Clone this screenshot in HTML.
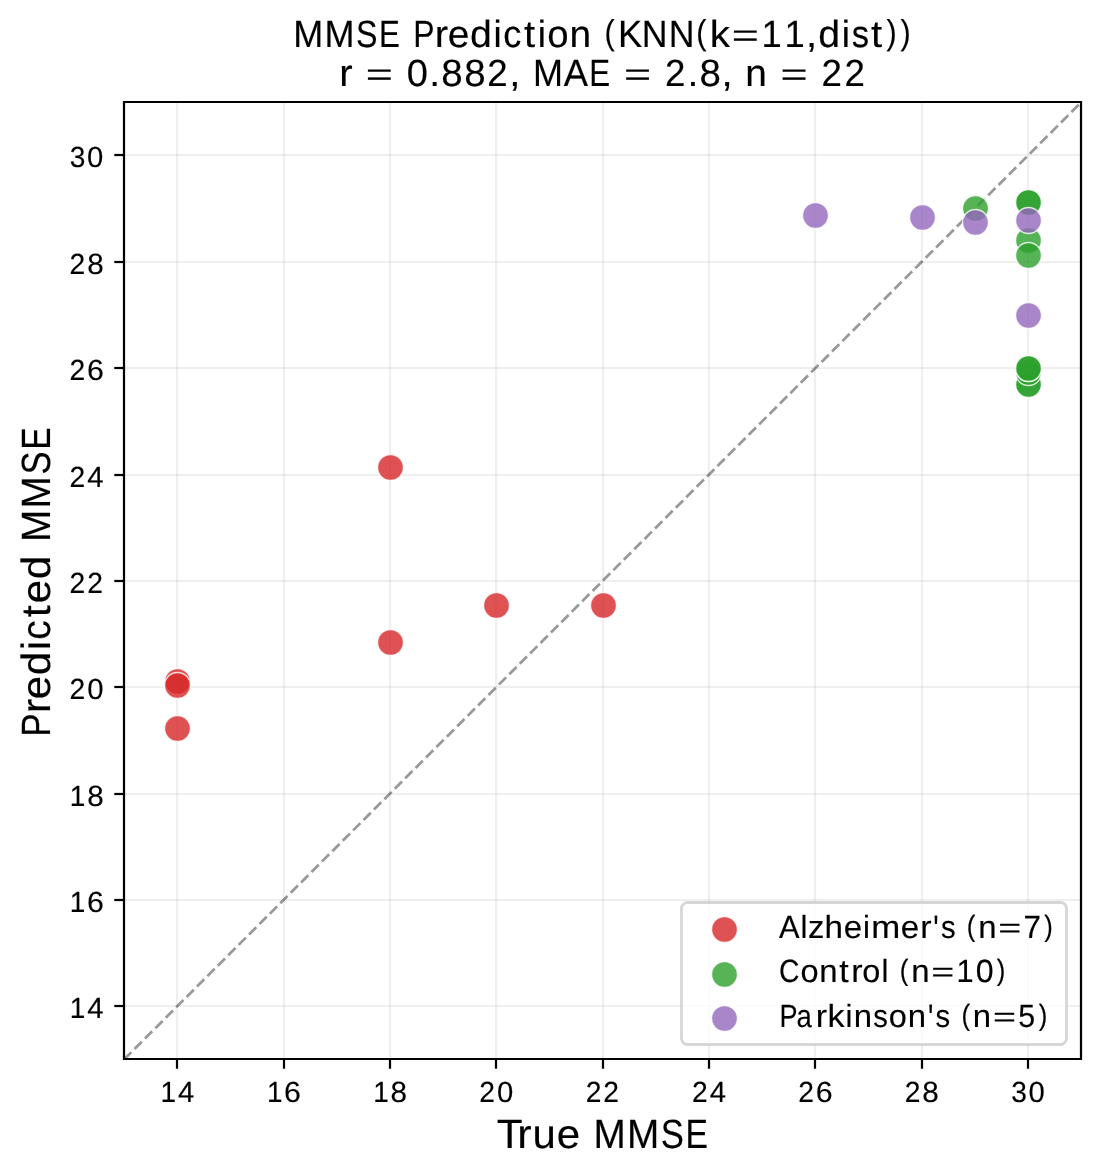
<!DOCTYPE html>
<html><head><meta charset="utf-8"><title>MMSE Prediction (KNN)</title><style>html,body{margin:0;padding:0;background:#fff;}svg{display:block;will-change:transform;}text{font-family:"Liberation Sans",sans-serif;fill:#000;stroke:#000;stroke-width:0.15px;text-rendering:geometricPrecision;}</style></head><body>
<svg width="1101" height="1176" viewBox="0 0 1101 1176">
<rect x="0" y="0" width="1101" height="1176" fill="#fff"/>
<defs><clipPath id="ax"><rect x="124.0" y="102.0" width="957.0" height="957.0"/></clipPath></defs>
<g stroke="#b0b0b0" stroke-opacity="0.2" stroke-width="2.222">
<line x1="177" y1="102.0" x2="177" y2="1059.0"/>
<line x1="124.0" y1="1006" x2="1081.0" y2="1006"/>
<line x1="284" y1="102.0" x2="284" y2="1059.0"/>
<line x1="124.0" y1="900" x2="1081.0" y2="900"/>
<line x1="390" y1="102.0" x2="390" y2="1059.0"/>
<line x1="124.0" y1="794" x2="1081.0" y2="794"/>
<line x1="496" y1="102.0" x2="496" y2="1059.0"/>
<line x1="124.0" y1="687" x2="1081.0" y2="687"/>
<line x1="603" y1="102.0" x2="603" y2="1059.0"/>
<line x1="124.0" y1="581" x2="1081.0" y2="581"/>
<line x1="709" y1="102.0" x2="709" y2="1059.0"/>
<line x1="124.0" y1="475" x2="1081.0" y2="475"/>
<line x1="815" y1="102.0" x2="815" y2="1059.0"/>
<line x1="124.0" y1="368" x2="1081.0" y2="368"/>
<line x1="922" y1="102.0" x2="922" y2="1059.0"/>
<line x1="124.0" y1="262" x2="1081.0" y2="262"/>
<line x1="1028" y1="102.0" x2="1028" y2="1059.0"/>
<line x1="124.0" y1="155" x2="1081.0" y2="155"/>
</g>
<g clip-path="url(#ax)">
<line x1="124.12" y1="1059.40" x2="1081.22" y2="102.30" stroke="#000" stroke-opacity="0.4" stroke-width="2.778" stroke-dasharray="10.278 4.444"/>
<circle cx="177.5" cy="681.5" r="12.955" fill="rgb(214,39,40)" fill-opacity="0.8" stroke="#fff" stroke-opacity="0.8" stroke-width="1.389"/>
<circle cx="177.5" cy="685.5" r="12.955" fill="rgb(214,39,40)" fill-opacity="0.8" stroke="#fff" stroke-opacity="0.8" stroke-width="1.389"/>
<circle cx="177.5" cy="728.5" r="12.955" fill="rgb(214,39,40)" fill-opacity="0.8" stroke="#fff" stroke-opacity="0.8" stroke-width="1.389"/>
<circle cx="390.5" cy="467.5" r="12.955" fill="rgb(214,39,40)" fill-opacity="0.8" stroke="#fff" stroke-opacity="0.8" stroke-width="1.389"/>
<circle cx="390.5" cy="642.5" r="12.955" fill="rgb(214,39,40)" fill-opacity="0.8" stroke="#fff" stroke-opacity="0.8" stroke-width="1.389"/>
<circle cx="496.5" cy="605.5" r="12.955" fill="rgb(214,39,40)" fill-opacity="0.8" stroke="#fff" stroke-opacity="0.8" stroke-width="1.389"/>
<circle cx="603.5" cy="605.5" r="12.955" fill="rgb(214,39,40)" fill-opacity="0.8" stroke="#fff" stroke-opacity="0.8" stroke-width="1.389"/>
<circle cx="975.5" cy="208.5" r="12.955" fill="rgb(44,160,44)" fill-opacity="0.8" stroke="#fff" stroke-opacity="0.8" stroke-width="1.389"/>
<circle cx="815.5" cy="215.5" r="12.955" fill="rgb(148,103,189)" fill-opacity="0.8" stroke="#fff" stroke-opacity="0.8" stroke-width="1.389"/>
<circle cx="922.5" cy="217.5" r="12.955" fill="rgb(148,103,189)" fill-opacity="0.8" stroke="#fff" stroke-opacity="0.8" stroke-width="1.389"/>
<circle cx="975.5" cy="222.5" r="12.955" fill="rgb(148,103,189)" fill-opacity="0.8" stroke="#fff" stroke-opacity="0.8" stroke-width="1.389"/>
<circle cx="1028.5" cy="202.5" r="12.955" fill="rgb(44,160,44)" fill-opacity="0.8" stroke="#fff" stroke-opacity="0.8" stroke-width="1.389"/>
<circle cx="1028.5" cy="202.5" r="12.955" fill="rgb(44,160,44)" fill-opacity="0.8" stroke="#fff" stroke-opacity="0.8" stroke-width="1.389"/>
<circle cx="1028.5" cy="240.5" r="12.955" fill="rgb(44,160,44)" fill-opacity="0.8" stroke="#fff" stroke-opacity="0.8" stroke-width="1.389"/>
<circle cx="1028.5" cy="220.5" r="12.955" fill="rgb(148,103,189)" fill-opacity="0.8" stroke="#fff" stroke-opacity="0.8" stroke-width="1.389"/>
<circle cx="1028.5" cy="255.5" r="12.955" fill="rgb(44,160,44)" fill-opacity="0.8" stroke="#fff" stroke-opacity="0.8" stroke-width="1.389"/>
<circle cx="1028.5" cy="315.5" r="12.955" fill="rgb(148,103,189)" fill-opacity="0.8" stroke="#fff" stroke-opacity="0.8" stroke-width="1.389"/>
<circle cx="1028.5" cy="384.5" r="12.955" fill="rgb(44,160,44)" fill-opacity="0.8" stroke="#fff" stroke-opacity="0.8" stroke-width="1.389"/>
<circle cx="1028.5" cy="384.5" r="12.955" fill="rgb(44,160,44)" fill-opacity="0.8" stroke="#fff" stroke-opacity="0.8" stroke-width="1.389"/>
<circle cx="1028.5" cy="372.5" r="12.955" fill="rgb(44,160,44)" fill-opacity="0.8" stroke="#fff" stroke-opacity="0.8" stroke-width="1.389"/>
<circle cx="1028.5" cy="368.5" r="12.955" fill="rgb(44,160,44)" fill-opacity="0.8" stroke="#fff" stroke-opacity="0.8" stroke-width="1.389"/>
<circle cx="1028.5" cy="368.5" r="12.955" fill="rgb(44,160,44)" fill-opacity="0.8" stroke="#fff" stroke-opacity="0.8" stroke-width="1.389"/>
</g>
<rect x="681.5" y="902.5" width="385" height="142" rx="6.1" ry="6.1" fill="#fff" fill-opacity="0.8" stroke="#cccccc" stroke-opacity="0.8" stroke-width="2.778"/>
<circle cx="724.5" cy="929.5" r="12.955" fill="rgb(214,39,40)" fill-opacity="0.8" stroke="#fff" stroke-opacity="0.8" stroke-width="1.389"/>
<text transform="translate(778.80,937.60)" y="0" font-size="32.08"><tspan x="0.18" textLength="20.53" lengthAdjust="spacingAndGlyphs">A</tspan><tspan x="21.64" textLength="6.94" lengthAdjust="spacingAndGlyphs">l</tspan><tspan x="29.32" textLength="16.37" lengthAdjust="spacingAndGlyphs">z</tspan><tspan x="45.82" textLength="18.45" lengthAdjust="spacingAndGlyphs">h</tspan><tspan x="64.96" textLength="18.36" lengthAdjust="spacingAndGlyphs">e</tspan><tspan x="84.23" textLength="6.94" lengthAdjust="spacingAndGlyphs">i</tspan><tspan x="92.38" textLength="29.00" lengthAdjust="spacingAndGlyphs">m</tspan><tspan x="121.91" textLength="18.36" lengthAdjust="spacingAndGlyphs">e</tspan><tspan x="141.55" textLength="11.33" lengthAdjust="spacingAndGlyphs">r</tspan><tspan x="154.44" y="4.06" font-size="38.28" textLength="5.39" lengthAdjust="spacingAndGlyphs">&#39;</tspan><tspan x="162.16" y="0" textLength="14.64" lengthAdjust="spacingAndGlyphs">s</tspan> <tspan x="187.93" y="-2.02" font-size="29.21" textLength="8.60" lengthAdjust="spacingAndGlyphs">(</tspan><tspan x="199.39" y="0" textLength="18.32" lengthAdjust="spacingAndGlyphs">n</tspan><tspan x="219.45" y="-0.76" font-size="26.76" textLength="22.99" lengthAdjust="spacingAndGlyphs">=</tspan><tspan x="244.58" y="0" textLength="17.52" lengthAdjust="spacingAndGlyphs">7</tspan><tspan x="265.39" y="-2.02" font-size="29.21" textLength="8.60" lengthAdjust="spacingAndGlyphs">)</tspan></text>
<circle cx="724.5" cy="974.5" r="12.955" fill="rgb(44,160,44)" fill-opacity="0.8" stroke="#fff" stroke-opacity="0.8" stroke-width="1.389"/>
<text transform="translate(778.80,981.60)" y="0" font-size="32.08"><tspan x="0.28" textLength="20.48" lengthAdjust="spacingAndGlyphs">C</tspan><tspan x="21.62" textLength="18.07" lengthAdjust="spacingAndGlyphs">o</tspan><tspan x="40.54" textLength="18.32" lengthAdjust="spacingAndGlyphs">n</tspan><tspan x="60.47" textLength="9.45" lengthAdjust="spacingAndGlyphs">t</tspan><tspan x="72.41" textLength="11.33" lengthAdjust="spacingAndGlyphs">r</tspan><tspan x="83.48" textLength="18.07" lengthAdjust="spacingAndGlyphs">o</tspan><tspan x="102.60" textLength="6.94" lengthAdjust="spacingAndGlyphs">l</tspan> <tspan x="121.01" y="-2.02" font-size="29.21" textLength="8.60" lengthAdjust="spacingAndGlyphs">(</tspan><tspan x="132.48" y="0" textLength="18.32" lengthAdjust="spacingAndGlyphs">n</tspan><tspan x="152.53" y="-0.76" font-size="26.76" textLength="22.99" lengthAdjust="spacingAndGlyphs">=</tspan><tspan x="177.79" y="0" textLength="17.11" lengthAdjust="spacingAndGlyphs">1</tspan><tspan x="196.94" textLength="17.91" lengthAdjust="spacingAndGlyphs">0</tspan><tspan x="217.88" y="-2.02" font-size="29.21" textLength="8.60" lengthAdjust="spacingAndGlyphs">)</tspan></text>
<circle cx="724.5" cy="1018.5" r="12.955" fill="rgb(148,103,189)" fill-opacity="0.8" stroke="#fff" stroke-opacity="0.8" stroke-width="1.389"/>
<text transform="translate(778.80,1026.60)" y="0" font-size="32.08"><tspan x="0.78" textLength="18.02" lengthAdjust="spacingAndGlyphs">P</tspan><tspan x="17.69" textLength="15.28" lengthAdjust="spacingAndGlyphs">a</tspan><tspan x="36.87" textLength="11.33" lengthAdjust="spacingAndGlyphs">r</tspan><tspan x="48.72" textLength="17.08" lengthAdjust="spacingAndGlyphs">k</tspan><tspan x="66.70" textLength="6.94" lengthAdjust="spacingAndGlyphs">i</tspan><tspan x="74.97" textLength="18.32" lengthAdjust="spacingAndGlyphs">n</tspan><tspan x="94.56" textLength="14.64" lengthAdjust="spacingAndGlyphs">s</tspan><tspan x="109.93" textLength="18.07" lengthAdjust="spacingAndGlyphs">o</tspan><tspan x="128.85" textLength="18.32" lengthAdjust="spacingAndGlyphs">n</tspan><tspan x="149.10" y="4.06" font-size="38.28" textLength="5.39" lengthAdjust="spacingAndGlyphs">&#39;</tspan><tspan x="156.82" y="0" textLength="14.64" lengthAdjust="spacingAndGlyphs">s</tspan> <tspan x="182.59" y="-2.02" font-size="29.21" textLength="8.60" lengthAdjust="spacingAndGlyphs">(</tspan><tspan x="194.05" y="0" textLength="18.32" lengthAdjust="spacingAndGlyphs">n</tspan><tspan x="214.11" y="-0.76" font-size="26.76" textLength="22.99" lengthAdjust="spacingAndGlyphs">=</tspan><tspan x="239.49" y="0" textLength="16.91" lengthAdjust="spacingAndGlyphs">5</tspan><tspan x="260.05" y="-2.02" font-size="29.21" textLength="8.60" lengthAdjust="spacingAndGlyphs">)</tspan></text>
<path d="M124.0 102.0H1081.0V1059.0H124.0Z" fill="none" stroke="#000" stroke-width="2.222" stroke-linejoin="miter" stroke-linecap="square"/>
<g stroke="#000" stroke-width="2.222">
<line x1="177" y1="1059.0" x2="177" y2="1068.72"/>
<line x1="124.0" y1="1006" x2="114.28" y2="1006"/>
<line x1="284" y1="1059.0" x2="284" y2="1068.72"/>
<line x1="124.0" y1="900" x2="114.28" y2="900"/>
<line x1="390" y1="1059.0" x2="390" y2="1068.72"/>
<line x1="124.0" y1="794" x2="114.28" y2="794"/>
<line x1="496" y1="1059.0" x2="496" y2="1068.72"/>
<line x1="124.0" y1="687" x2="114.28" y2="687"/>
<line x1="603" y1="1059.0" x2="603" y2="1068.72"/>
<line x1="124.0" y1="581" x2="114.28" y2="581"/>
<line x1="709" y1="1059.0" x2="709" y2="1068.72"/>
<line x1="124.0" y1="475" x2="114.28" y2="475"/>
<line x1="815" y1="1059.0" x2="815" y2="1068.72"/>
<line x1="124.0" y1="368" x2="114.28" y2="368"/>
<line x1="922" y1="1059.0" x2="922" y2="1068.72"/>
<line x1="124.0" y1="262" x2="114.28" y2="262"/>
<line x1="1028" y1="1059.0" x2="1028" y2="1068.72"/>
<line x1="124.0" y1="155" x2="114.28" y2="155"/>
</g>
<text transform="translate(159.65,1101.57)" y="0" font-size="29.17"><tspan x="0.92" textLength="15.55" lengthAdjust="spacingAndGlyphs">1</tspan><tspan x="18.34" textLength="16.29" lengthAdjust="spacingAndGlyphs">4</tspan></text>
<text transform="translate(68.96,1017.57)" y="0" font-size="29.17"><tspan x="0.92" textLength="15.55" lengthAdjust="spacingAndGlyphs">1</tspan><tspan x="18.34" textLength="16.29" lengthAdjust="spacingAndGlyphs">4</tspan></text>
<text transform="translate(265.99,1101.57)" y="0" font-size="29.17"><tspan x="0.92" textLength="15.55" lengthAdjust="spacingAndGlyphs">1</tspan><tspan x="18.06" textLength="16.85" lengthAdjust="spacingAndGlyphs">6</tspan></text>
<text transform="translate(68.96,911.57)" y="0" font-size="29.17"><tspan x="0.92" textLength="15.55" lengthAdjust="spacingAndGlyphs">1</tspan><tspan x="18.06" textLength="16.85" lengthAdjust="spacingAndGlyphs">6</tspan></text>
<text transform="translate(372.34,1101.57)" y="0" font-size="29.17"><tspan x="0.92" textLength="15.55" lengthAdjust="spacingAndGlyphs">1</tspan><tspan x="18.25" textLength="16.46" lengthAdjust="spacingAndGlyphs">8</tspan></text>
<text transform="translate(68.96,805.57)" y="0" font-size="29.17"><tspan x="0.92" textLength="15.55" lengthAdjust="spacingAndGlyphs">1</tspan><tspan x="18.25" textLength="16.46" lengthAdjust="spacingAndGlyphs">8</tspan></text>
<text transform="translate(478.62,1101.57)" y="0" font-size="29.17"><tspan x="0.62" textLength="15.70" lengthAdjust="spacingAndGlyphs">2</tspan><tspan x="18.34" textLength="16.29" lengthAdjust="spacingAndGlyphs">0</tspan></text>
<text transform="translate(68.83,698.57)" y="0" font-size="29.17"><tspan x="0.62" textLength="15.70" lengthAdjust="spacingAndGlyphs">2</tspan><tspan x="18.34" textLength="16.29" lengthAdjust="spacingAndGlyphs">0</tspan></text>
<text transform="translate(585.02,1101.57)" y="0" font-size="29.17"><tspan x="0.62" textLength="15.70" lengthAdjust="spacingAndGlyphs">2</tspan><tspan x="18.27" textLength="15.70" lengthAdjust="spacingAndGlyphs">2</tspan></text>
<text transform="translate(68.96,592.57)" y="0" font-size="29.17"><tspan x="0.62" textLength="15.70" lengthAdjust="spacingAndGlyphs">2</tspan><tspan x="18.27" textLength="15.70" lengthAdjust="spacingAndGlyphs">2</tspan></text>
<text transform="translate(691.37,1101.57)" y="0" font-size="29.17"><tspan x="0.62" textLength="15.70" lengthAdjust="spacingAndGlyphs">2</tspan><tspan x="18.34" textLength="16.29" lengthAdjust="spacingAndGlyphs">4</tspan></text>
<text transform="translate(68.96,486.57)" y="0" font-size="29.17"><tspan x="0.62" textLength="15.70" lengthAdjust="spacingAndGlyphs">2</tspan><tspan x="18.34" textLength="16.29" lengthAdjust="spacingAndGlyphs">4</tspan></text>
<text transform="translate(797.71,1101.57)" y="0" font-size="29.17"><tspan x="0.62" textLength="15.70" lengthAdjust="spacingAndGlyphs">2</tspan><tspan x="18.06" textLength="16.85" lengthAdjust="spacingAndGlyphs">6</tspan></text>
<text transform="translate(68.96,379.57)" y="0" font-size="29.17"><tspan x="0.62" textLength="15.70" lengthAdjust="spacingAndGlyphs">2</tspan><tspan x="18.06" textLength="16.85" lengthAdjust="spacingAndGlyphs">6</tspan></text>
<text transform="translate(904.06,1101.57)" y="0" font-size="29.17"><tspan x="0.62" textLength="15.70" lengthAdjust="spacingAndGlyphs">2</tspan><tspan x="18.25" textLength="16.46" lengthAdjust="spacingAndGlyphs">8</tspan></text>
<text transform="translate(68.96,273.57)" y="0" font-size="29.17"><tspan x="0.62" textLength="15.70" lengthAdjust="spacingAndGlyphs">2</tspan><tspan x="18.25" textLength="16.46" lengthAdjust="spacingAndGlyphs">8</tspan></text>
<text transform="translate(1010.28,1101.57)" y="0" font-size="29.17"><tspan x="1.04" textLength="15.64" lengthAdjust="spacingAndGlyphs">3</tspan><tspan x="18.34" textLength="16.29" lengthAdjust="spacingAndGlyphs">0</tspan></text>
<text transform="translate(68.71,167.24)" y="0" font-size="29.17"><tspan x="1.04" textLength="15.64" lengthAdjust="spacingAndGlyphs">3</tspan><tspan x="18.34" textLength="16.29" lengthAdjust="spacingAndGlyphs">0</tspan></text>
<text transform="translate(292.66,46.86)" y="0" font-size="37.92"><tspan x="0.59" textLength="29.99" lengthAdjust="spacingAndGlyphs">M</tspan><tspan x="31.76" textLength="29.99" lengthAdjust="spacingAndGlyphs">M</tspan><tspan x="63.26" textLength="21.47" lengthAdjust="spacingAndGlyphs">S</tspan><tspan x="86.24" textLength="20.87" lengthAdjust="spacingAndGlyphs">E</tspan> <tspan x="120.50" textLength="21.30" lengthAdjust="spacingAndGlyphs">P</tspan><tspan x="142.11" textLength="13.38" lengthAdjust="spacingAndGlyphs">r</tspan><tspan x="155.17" textLength="21.69" lengthAdjust="spacingAndGlyphs">e</tspan><tspan x="177.41" textLength="21.83" lengthAdjust="spacingAndGlyphs">d</tspan><tspan x="200.93" textLength="8.20" lengthAdjust="spacingAndGlyphs">i</tspan><tspan x="210.48" textLength="18.12" lengthAdjust="spacingAndGlyphs">c</tspan><tspan x="231.28" textLength="11.17" lengthAdjust="spacingAndGlyphs">t</tspan><tspan x="244.99" textLength="8.20" lengthAdjust="spacingAndGlyphs">i</tspan><tspan x="254.47" textLength="21.35" lengthAdjust="spacingAndGlyphs">o</tspan><tspan x="276.89" textLength="21.65" lengthAdjust="spacingAndGlyphs">n</tspan> <tspan x="311.78" y="-2.39" font-size="34.52" textLength="10.17" lengthAdjust="spacingAndGlyphs">(</tspan><tspan x="325.22" y="0" textLength="24.29" lengthAdjust="spacingAndGlyphs">K</tspan><tspan x="348.97" textLength="25.76" lengthAdjust="spacingAndGlyphs">N</tspan><tspan x="376.00" textLength="25.76" lengthAdjust="spacingAndGlyphs">N</tspan><tspan x="403.61" y="-2.39" font-size="34.52" textLength="10.17" lengthAdjust="spacingAndGlyphs">(</tspan><tspan x="417.06" y="0" textLength="20.19" lengthAdjust="spacingAndGlyphs">k</tspan><tspan x="438.97" y="-0.89" font-size="31.62" textLength="27.17" lengthAdjust="spacingAndGlyphs">=</tspan><tspan x="468.88" y="0" textLength="20.22" lengthAdjust="spacingAndGlyphs">1</tspan><tspan x="491.87" textLength="20.22" lengthAdjust="spacingAndGlyphs">1</tspan><tspan x="513.44" textLength="11.17" lengthAdjust="spacingAndGlyphs">,</tspan><tspan x="525.48" textLength="21.83" lengthAdjust="spacingAndGlyphs">d</tspan><tspan x="549.00" textLength="8.20" lengthAdjust="spacingAndGlyphs">i</tspan><tspan x="559.10" textLength="17.31" lengthAdjust="spacingAndGlyphs">s</tspan><tspan x="578.32" textLength="11.17" lengthAdjust="spacingAndGlyphs">t</tspan><tspan x="593.80" y="-2.39" font-size="34.52" textLength="10.17" lengthAdjust="spacingAndGlyphs">)</tspan><tspan x="607.90" y="-2.39" font-size="34.52" textLength="10.17" lengthAdjust="spacingAndGlyphs">)</tspan></text>
<text transform="translate(337.85,85.74)" y="0" font-size="37.92"><tspan x="1.37" textLength="13.38" lengthAdjust="spacingAndGlyphs">r</tspan> <tspan x="27.89" y="-0.89" font-size="31.62" textLength="27.17" lengthAdjust="spacingAndGlyphs">=</tspan> <tspan x="68.98" y="0" textLength="21.17" lengthAdjust="spacingAndGlyphs">0</tspan><tspan x="91.36" textLength="10.86" lengthAdjust="spacingAndGlyphs">.</tspan><tspan x="103.33" textLength="21.40" lengthAdjust="spacingAndGlyphs">8</tspan><tspan x="126.32" textLength="21.40" lengthAdjust="spacingAndGlyphs">8</tspan><tspan x="149.32" textLength="20.41" lengthAdjust="spacingAndGlyphs">2</tspan><tspan x="171.29" textLength="11.17" lengthAdjust="spacingAndGlyphs">,</tspan> <tspan x="195.06" textLength="29.99" lengthAdjust="spacingAndGlyphs">M</tspan><tspan x="225.85" textLength="24.26" lengthAdjust="spacingAndGlyphs">A</tspan><tspan x="251.33" textLength="20.87" lengthAdjust="spacingAndGlyphs">E</tspan> <tspan x="286.22" y="-0.89" font-size="31.62" textLength="27.17" lengthAdjust="spacingAndGlyphs">=</tspan> <tspan x="327.21" y="0" textLength="20.41" lengthAdjust="spacingAndGlyphs">2</tspan><tspan x="349.69" textLength="10.86" lengthAdjust="spacingAndGlyphs">.</tspan><tspan x="361.66" textLength="21.40" lengthAdjust="spacingAndGlyphs">8</tspan><tspan x="383.65" textLength="11.17" lengthAdjust="spacingAndGlyphs">,</tspan> <tspan x="407.52" textLength="21.65" lengthAdjust="spacingAndGlyphs">n</tspan> <tspan x="442.76" y="-0.89" font-size="31.62" textLength="27.17" lengthAdjust="spacingAndGlyphs">=</tspan> <tspan x="483.76" y="0" textLength="20.41" lengthAdjust="spacingAndGlyphs">2</tspan><tspan x="506.74" textLength="20.41" lengthAdjust="spacingAndGlyphs">2</tspan></text>
<text transform="translate(497.87,1147.83)" y="0" font-size="40.83"><tspan x="-1.07" textLength="25.91" lengthAdjust="spacingAndGlyphs">T</tspan><tspan x="19.47" textLength="14.41" lengthAdjust="spacingAndGlyphs">r</tspan><tspan x="34.56" textLength="23.32" lengthAdjust="spacingAndGlyphs">u</tspan><tspan x="58.98" textLength="23.36" lengthAdjust="spacingAndGlyphs">e</tspan> <tspan x="95.53" textLength="32.30" lengthAdjust="spacingAndGlyphs">M</tspan><tspan x="129.07" textLength="32.30" lengthAdjust="spacingAndGlyphs">M</tspan><tspan x="162.96" textLength="23.12" lengthAdjust="spacingAndGlyphs">S</tspan><tspan x="187.70" textLength="22.48" lengthAdjust="spacingAndGlyphs">E</tspan></text>
<text transform="translate(49.71,737.52) rotate(-90)" y="0" font-size="40.83"><tspan x="1.00" textLength="22.94" lengthAdjust="spacingAndGlyphs">P</tspan><tspan x="24.29" textLength="14.41" lengthAdjust="spacingAndGlyphs">r</tspan><tspan x="38.29" textLength="23.36" lengthAdjust="spacingAndGlyphs">e</tspan><tspan x="62.21" textLength="23.51" lengthAdjust="spacingAndGlyphs">d</tspan><tspan x="87.52" textLength="8.83" lengthAdjust="spacingAndGlyphs">i</tspan><tspan x="97.81" textLength="19.51" lengthAdjust="spacingAndGlyphs">c</tspan><tspan x="120.19" textLength="12.03" lengthAdjust="spacingAndGlyphs">t</tspan><tspan x="134.30" textLength="23.36" lengthAdjust="spacingAndGlyphs">e</tspan><tspan x="158.22" textLength="23.51" lengthAdjust="spacingAndGlyphs">d</tspan> <tspan x="195.52" textLength="32.30" lengthAdjust="spacingAndGlyphs">M</tspan><tspan x="229.06" textLength="32.30" lengthAdjust="spacingAndGlyphs">M</tspan><tspan x="262.96" textLength="23.12" lengthAdjust="spacingAndGlyphs">S</tspan><tspan x="287.70" textLength="22.48" lengthAdjust="spacingAndGlyphs">E</tspan></text>
</svg></body></html>
